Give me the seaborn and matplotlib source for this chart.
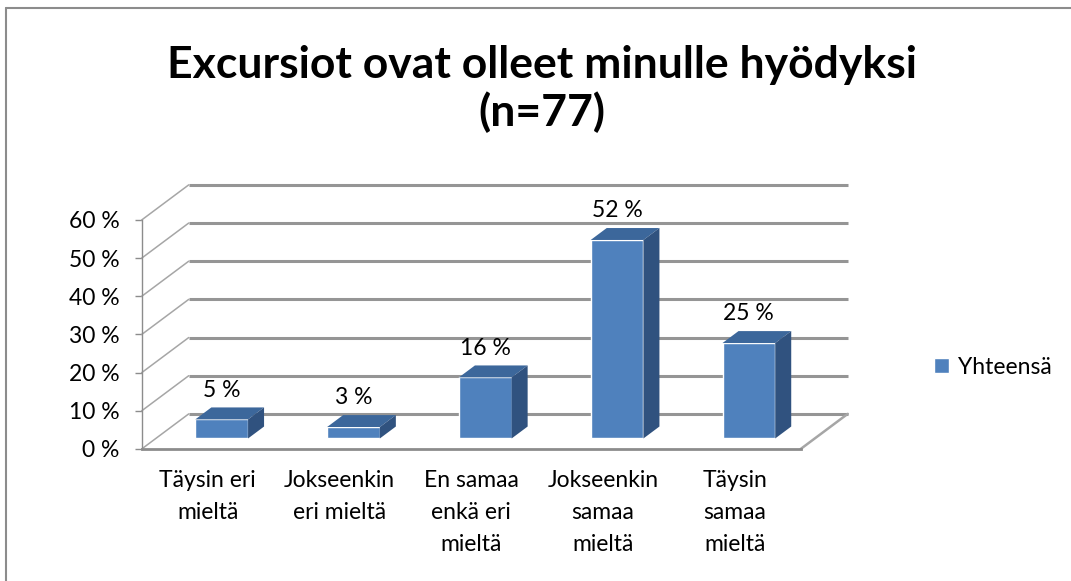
import pandas as pd
import seaborn as sns
import matplotlib
matplotlib.use('Agg')
import matplotlib.pyplot as plt
from matplotlib.patches import Polygon
from matplotlib.lines import Line2D

# data
categories = ['Täysin eri\nmieltä', 'Jokseenkin\neri mieltä', 'En samaa\nenkä eri\nmieltä',
              'Jokseenkin\nsamaa\nmieltä', 'Täysin\nsamaa\nmieltä']
values = [5, 3, 16, 52, 25]
y_ticks = [0, 10, 20, 30, 40, 50, 60]
series_name = 'Yhteensä'
title = 'Excursiot ovat olleet minulle hyödyksi\n(n=77)'

sns.set_style('white')
plt.rcParams['font.family'] = ['Lato', 'DejaVu Sans']
plt.rcParams['text.color'] = 'black'
plt.rcParams['xtick.labelcolor'] = 'black'
plt.rcParams['ytick.labelcolor'] = 'black'

front_c = '#4F81BD'
top_c = '#3C679B'
side_c = '#30527F'
grid_c = '#959595'
fs = 16.5

# 3d "syvyys" datayksikoissa
wall_dx, wall_dy = 0.357, 9.2
front_f, back_f = 0.30, 0.64

fig = plt.figure(figsize=(10.71, 5.81), dpi=100)
ax = fig.add_axes([0.1323, 0.2272, 0.6768, 0.4599])

df = pd.DataFrame({'kategoria': categories, 'osuus': values})
sns.barplot(data=df, x='kategoria', y='osuus', color=front_c, saturation=1, width=0.4,
            label=series_name, ax=ax, zorder=3)

ax.set_xlim(-0.5, 5.0)
ax.set_ylim(0, 70)
n = len(categories)

# takaseina ja vasen seina
for v in y_ticks:
    ax.plot([-0.5 + wall_dx, n - 0.5 + wall_dx], [v + wall_dy, v + wall_dy],
            color=grid_c, lw=2.2, clip_on=False, zorder=1, solid_capstyle='butt')
    ax.plot([-0.5, -0.5 + wall_dx], [v, v + wall_dy], color='#a6a6a6', lw=1.1,
            clip_on=False, zorder=1)
ax.plot([n - 0.5, n - 0.5 + wall_dx], [0, wall_dy], color='#a6a6a6', lw=1.8,
        clip_on=False, zorder=1)

# pylvaat 3d:ksi
ddx = (back_f - front_f) * wall_dx
ddy = (back_f - front_f) * wall_dy
for rect, v in zip(ax.patches, values):
    rect.set_x(rect.get_x() + front_f * wall_dx)
    rect.set_y(front_f * wall_dy)
    x0 = rect.get_x()
    x1 = x0 + rect.get_width()
    y0 = rect.get_y()
    y1 = y0 + rect.get_height()
    ax.add_patch(Polygon([(x0, y1), (x1, y1), (x1 + ddx, y1 + ddy), (x0 + ddx, y1 + ddy)],
                         closed=True, facecolor=top_c, edgecolor='none', zorder=3, clip_on=False))
    ax.add_patch(Polygon([(x1, y0), (x1 + ddx, y0 + ddy), (x1 + ddx, y1 + ddy), (x1, y1)],
                         closed=True, facecolor=side_c, edgecolor='none', zorder=3, clip_on=False))
    ax.annotate(f'{v} %', xy=((x0 + x1) / 2, y1 + ddy), xytext=(0, 12.5),
                textcoords='offset points', ha='center', va='center', fontsize=fs)
    rect.set_clip_on(False)

ax.set_xticks(range(n), labels=categories)
ax.set_xticks([i - 0.5 for i in range(n + 1)], minor=True)
for lbl in ax.get_xticklabels():
    lbl.set_linespacing(1.65)
ax.set_yticks(y_ticks, labels=[f'{v} %' for v in y_ticks])
ax.tick_params(bottom=True, left=True)
ax.tick_params(axis='x', which='major', length=0, pad=15, labelsize=fs)
ax.tick_params(axis='x', which='minor', length=5, width=1, color='#8c8c8c')
ax.tick_params(axis='y', length=5, width=1, color='#8c8c8c', pad=11, labelsize=fs)
ax.set_xlabel('')
ax.set_ylabel('')

sns.despine(ax=ax)
ax.spines['left'].set_bounds(0, 60)
ax.spines['left'].set_color('#8c8c8c')
ax.spines['left'].set_linewidth(1)
ax.spines['bottom'].set_bounds(-0.5, n - 0.5)
ax.spines['bottom'].set_color('#8c8c8c')
ax.spines['bottom'].set_linewidth(2)

fig.text(0.506, 1 - 89 / 581, title, ha='center', va='center', fontsize=32,
         fontweight='bold', linespacing=1.2)

ax.legend(loc='center left', bbox_to_anchor=(934 / 1071, 1 - 367 / 581),
          bbox_transform=fig.transFigure, frameon=False, borderpad=0, borderaxespad=0,
          handlelength=0.65, handleheight=0.65, handletextpad=0.4, fontsize=fs)

# kaavion reunaviivat
fig.add_artist(Line2D([6 / 1071, 1], [1 - 7.5 / 581, 1 - 7.5 / 581], color='#8c8c8c', lw=1.5))
fig.add_artist(Line2D([6 / 1071, 6 / 1071], [0, 1 - 7.5 / 581], color='#8c8c8c', lw=1.5))

fig.savefig('out.png', dpi=100)
